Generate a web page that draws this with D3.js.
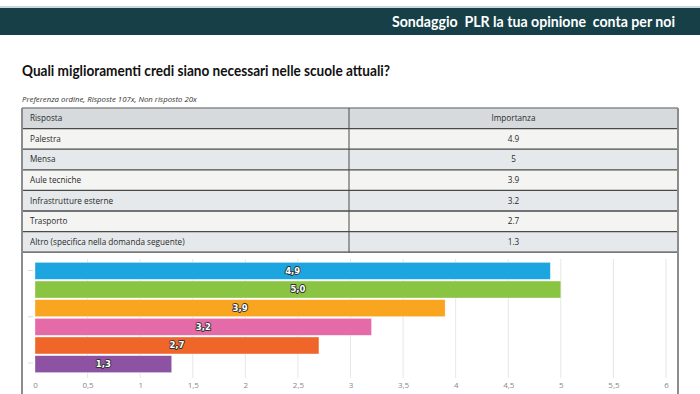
<!DOCTYPE html>
<html lang="it">
<head>
<meta charset="utf-8" />
<title>Sondaggio PLR – miglioramenti scuole</title>
<script src="https://cdn.jsdelivr.net/npm/d3@7/dist/d3.min.js"></script>
<style>
  body{margin:0;background:#fff;}
  svg{display:block;}
  .hdr{font:bold 15px Lato,sans-serif;fill:#fff;}
  .qtitle{font:bold 14.5px Lato,sans-serif;fill:#111;}
  .sub{font:italic 7.8px "Open Sans",sans-serif;fill:#333;}
  .cell{font:8.2px "Open Sans",sans-serif;fill:#2a2a2a;}
  .tick text{font:8px "Open Sans",sans-serif;fill:#888;}
  .vlab{font:bold 8.5px "DejaVu Sans",sans-serif;fill:#fff;stroke:#333;stroke-width:1.8px;paint-order:stroke;stroke-linejoin:round;}
</style>
</head>
<body>
<svg id="chart" width="700" height="394"></svg>
<script>
const headerTitle="Sondaggio  PLR la tua opinione  conta per noi";
const question="Quali miglioramenti credi siano necessari nelle scuole attuali?";
const subtitle="Preferenza ordine, Risposte 107x, Non risposto 20x";
const columns=["Risposta","Importanza"];
const answers=["Palestra","Mensa","Aule tecniche","Infrastrutture esterne","Trasporto","Altro (specifica nella domanda seguente)"];
const values=[4.9,5,3.9,3.2,2.7,1.3];
const barColors=["#1ca5df","#89c443","#f9a520","#e46aa8","#f0662a","#8d52a1"];
const xTicks=[0,0.5,1,1.5,2,2.5,3,3.5,4,4.5,5,5.5,6];

const svg=d3.select('#chart');

/* ---- header band ---- */
svg.append('rect').attr('x',0).attr('y',6).attr('width',700).attr('height',2).attr('fill','#c9d6dc');
svg.append('rect').attr('x',0).attr('y',8).attr('width',700).attr('height',27).attr('fill','#163f48');
svg.append('text').attr('class','hdr').attr('x',675).attr('y',26.5)
  .attr('text-anchor','end').attr('xml:space','preserve')
  .attr('textLength',283).attr('lengthAdjust','spacingAndGlyphs').text(headerTitle);

svg.append('text').attr('class','qtitle').attr('x',22).attr('y',76)
  .attr('textLength',368).attr('lengthAdjust','spacingAndGlyphs').text(question);
svg.append('text').attr('class','sub').attr('x',22).attr('y',102).text(subtitle);

/* ---- table ---- */
const tL=22,tR=678,tDiv=349,tTop=108,rowH=20.6;
const rows=[columns].concat(answers.map((a,i)=>[a,String(values[i])]));
const ty=d3.scaleLinear().domain([0,rows.length]).range([tTop,tTop+rows.length*rowH]);
const tg=svg.append('g');
rows.forEach((r,i)=>{
  const fill=i===0?'#d6dadd':(i%2===1?'#f4f4f2':'#e6e9eb');
  tg.append('rect').attr('x',tL).attr('y',ty(i)).attr('width',tR-tL).attr('height',rowH).attr('fill',fill);
  tg.append('text').attr('class','cell').attr('x',tL+8).attr('y',ty(i)+rowH/2).attr('dy','0.35em').text(r[0]);
  tg.append('text').attr('class','cell').attr('x',(tDiv+tR)/2).attr('y',ty(i)+rowH/2).attr('dy','0.35em')
    .attr('text-anchor','middle').text(r[1]);
});
d3.range(rows.length+1).forEach(i=>{
  tg.append('line').attr('x1',tL).attr('x2',tR).attr('y1',ty(i)).attr('y2',ty(i))
    .attr('stroke',i===0?'#8a8a8a':'#4a4a4a').attr('stroke-width',1.3);
});
tg.append('line').attr('x1',tDiv).attr('x2',tDiv).attr('y1',ty(0)).attr('y2',ty(rows.length))
  .attr('stroke','#4a4a4a').attr('stroke-width',1);

/* outer side borders run down through chart area */
const bottom=394;
[tL,tR].forEach(x=>svg.append('line').attr('x1',x).attr('x2',x).attr('y1',tTop).attr('y2',bottom)
  .attr('stroke','#8c8c8c').attr('stroke-width',2));

/* ---- bar chart ---- */
const x=d3.scaleLinear().domain([0,6]).range([35,666]);
const y=d3.scaleBand().domain(answers).range([262,373]).paddingInner(0.09).paddingOuter(0.02);

const grid=svg.append('g');
grid.selectAll('line').data(xTicks.slice(1)).join('line')
  .attr('x1',d=>x(d)).attr('x2',d=>x(d)).attr('y1',259).attr('y2',378)
  .attr('stroke','#e6e6e6').attr('stroke-width',1);

const yTickPos=d3.scaleLinear().domain([0,2]).range([270.5,363]);
svg.append('g').selectAll('line').data([0,1,2]).join('line')
  .attr('x1',28).attr('x2',33).attr('y1',d=>yTickPos(d)).attr('y2',d=>yTickPos(d))
  .attr('stroke','#dcdcdc');

svg.append('g').selectAll('rect').data(answers).join('rect')
  .attr('x',x(0)).attr('y',d=>y(d)).attr('width',(d,i)=>x(values[i])-x(0)).attr('height',y.bandwidth())
  .attr('fill',(d,i)=>barColors[i]).attr('stroke','#fff').attr('stroke-opacity',0.6).attr('stroke-width',0.6);

const fmt=d3.formatLocale({decimal:',',thousands:'.',grouping:[3],currency:['','']}).format('.1f');
svg.append('g').selectAll('text').data(answers).join('text').attr('class','vlab')
  .attr('x',(d,i)=>(x(0)+x(values[i]))/2).attr('y',d=>y(d)+y.bandwidth()/2).attr('dy','0.35em')
  .attr('text-anchor','middle').text((d,i)=>fmt(values[i]));

const axis=d3.axisBottom(x).tickValues(xTicks).tickSize(0).tickPadding(0)
  .tickFormat(d=>String(d).replace('.',','));
const ax=svg.append('g').attr('class','tick-axis').attr('transform','translate(0,385)').call(axis);
ax.select('.domain').remove();
ax.selectAll('.tick text').attr('dy','0.35em');
</script>
</body>
</html>
